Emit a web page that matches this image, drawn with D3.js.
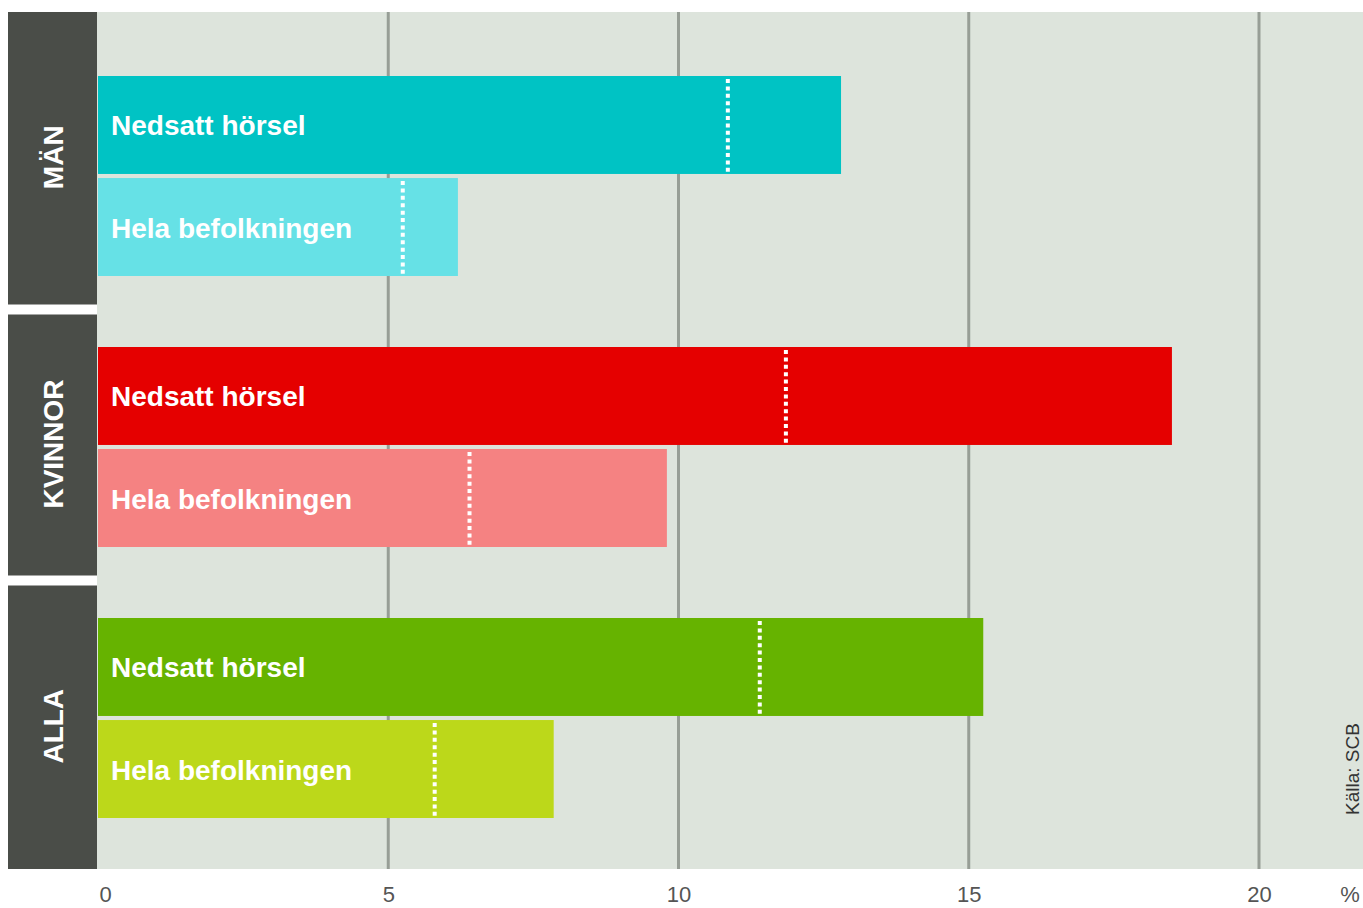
<!DOCTYPE html>
<html>
<head>
<meta charset="utf-8">
<script src="https://cdn.jsdelivr.net/npm/d3@7"></script>
<style>
  html, body { margin: 0; padding: 0; background: #ffffff; }
  svg { display: block; }
</style>
</head>
<body>
<svg id="chart" width="1363" height="908"></svg>
<script>
// Share of population (%), by group: people with impaired hearing vs. the whole population
const groups = ["MÄN", "KVINNOR", "ALLA"];
const seriesNames = ["Nedsatt hörsel", "Hela befolkningen"];
const barValues = [
  [12.8, 6.2],   // MÄN
  [18.5, 9.8],   // KVINNOR
  [15.25, 7.85]  // ALLA
];
const markerValues = [
  [10.85, 5.25],
  [11.85, 6.4],
  [11.4, 5.8]
];
const barColors = [
  ["#00c3c4", "#66e1e6"],
  ["#e50000", "#f58282"],
  ["#66b300", "#bcd81a"]
];
const tickValues = [0, 5, 10, 15, 20];
const unitLabel = "%";
const sourceLabel = "Källa: SCB";

const svg = d3.select("#chart");
const W = 1363;
const plotTop = 12, plotBottom = 869;
const panelLeft = 8, panelRight = 97;

const x = d3.scaleLinear().domain([0, 20]).range([98, 1259]);

const y = d3.scaleBand().domain(groups).range([40.5, 853.5]).paddingInner(0).paddingOuter(0);
const inner = d3.scaleBand().domain(seriesNames).range([-100, 100]).paddingInner(0.04);

// Plot background
svg.append("rect")
  .attr("x", panelRight).attr("y", plotTop)
  .attr("width", W - panelRight).attr("height", plotBottom - plotTop)
  .attr("fill", "#dde4dc");

// Vertical grid lines
svg.append("g").selectAll("line")
  .data(tickValues.filter(d => d > 0))
  .join("line")
  .attr("x1", d => x(d)).attr("x2", d => x(d))
  .attr("y1", plotTop).attr("y2", plotBottom)
  .attr("stroke", "#979e96").attr("stroke-width", 3);

// Dark group panels on the left
const centers = groups.map(g => y(g) + y.bandwidth() / 2);
const gap = 10;
const panels = groups.map((g, i) => {
  const top = i === 0 ? plotTop : (centers[i - 1] + centers[i]) / 2 + gap / 2 - 2;
  const bottom = i === groups.length - 1 ? plotBottom : (centers[i] + centers[i + 1]) / 2 - gap / 2 - 2;
  return { g, top, bottom };
});

svg.append("g").selectAll("rect")
  .data(panels)
  .join("rect")
  .attr("x", panelLeft).attr("y", d => d.top)
  .attr("width", panelRight - panelLeft).attr("height", d => d.bottom - d.top)
  .attr("fill", "#4a4d48");

svg.append("g").selectAll("text")
  .data(panels)
  .join("text")
  .attr("transform", d => `translate(${(panelLeft + panelRight) / 2 + 1},${(d.top + d.bottom) / 2 - 1}) rotate(-90)`)
  .attr("text-anchor", "middle")
  .attr("dominant-baseline", "central")
  .attr("fill", "#ffffff")
  .attr("font-family", "Liberation Sans, Arial, sans-serif")
  .attr("font-weight", "bold")
  .attr("font-size", 28)
  .text(d => d.g);

// Bars
const barData = [];
groups.forEach((g, gi) => {
  seriesNames.forEach((s, si) => {
    barData.push({ g, s, v: barValues[gi][si], m: markerValues[gi][si], c: barColors[gi][si] });
  });
});

const barG = svg.append("g");
const bars = barG.selectAll("g").data(barData).join("g")
  .attr("transform", d => `translate(0,${y(d.g) + y.bandwidth() / 2 + inner(d.s)})`);

bars.append("rect")
  .attr("x", x(0))
  .attr("y", 0)
  .attr("width", d => x(d.v) - x(0))
  .attr("height", inner.bandwidth())
  .attr("fill", d => d.c);

// Dotted reference markers
bars.append("line")
  .attr("x1", d => x(d.m)).attr("x2", d => x(d.m))
  .attr("y1", 3).attr("y2", inner.bandwidth() - 1)
  .attr("stroke", "#ffffff")
  .attr("stroke-width", 4)
  .attr("stroke-dasharray", "4,3.4");

bars.append("text")
  .attr("x", 111)
  .attr("y", inner.bandwidth() / 2 + 1)
  .attr("dominant-baseline", "central")
  .attr("fill", "#ffffff")
  .attr("font-family", "Liberation Sans, Arial, sans-serif")
  .attr("font-weight", "bold")
  .attr("font-size", 28)
  .text(d => d.s);

// X axis labels
const axis = d3.axisBottom(x).tickValues(tickValues).tickSize(0).tickPadding(0);
const axisG = svg.append("g").attr("transform", `translate(0,${plotBottom})`).call(axis);
axisG.select(".domain").remove();
axisG.selectAll("text")
  .attr("y", 25)
  .attr("dy", "0.35em")
  .attr("dx", d => d === 0 ? 7 : 0)
  .attr("fill", "#555")
  .attr("font-family", "Liberation Sans, Arial, sans-serif")
  .attr("font-size", 22);

svg.append("text")
  .attr("x", 1350).attr("y", plotBottom + 25)
  .attr("dy", "0.35em")
  .attr("text-anchor", "middle")
  .attr("fill", "#555")
  .attr("font-family", "Liberation Sans, Arial, sans-serif")
  .attr("font-size", 22)
  .text(unitLabel);

// Source note
svg.append("text")
  .attr("transform", "translate(1352,815) rotate(-90)")
  .attr("text-anchor", "start")
  .attr("dominant-baseline", "central")
  .attr("fill", "#333")
  .attr("font-family", "Liberation Sans, Arial, sans-serif")
  .attr("font-size", 19)
  .text(sourceLabel);
</script>
</body>
</html>
